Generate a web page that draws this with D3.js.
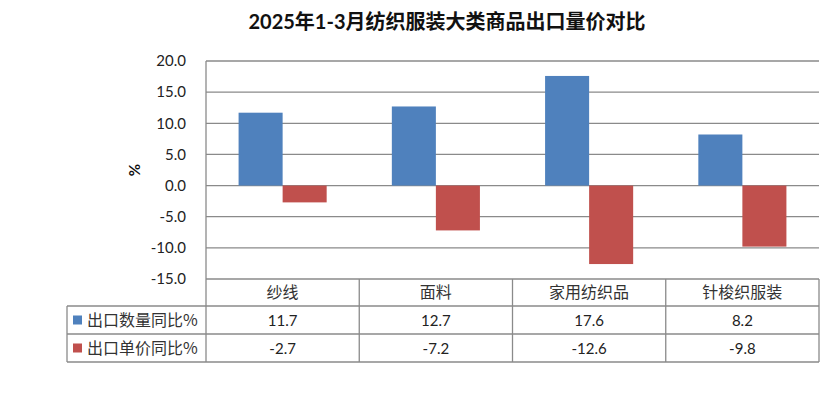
<!DOCTYPE html>
<html><head><meta charset="utf-8">
<script src="https://cdn.jsdelivr.net/npm/d3@7"></script>
<style>body{margin:0;background:#fff}svg{display:block}</style>
</head><body>
<svg id="c" width="830" height="395"></svg>
<script>
const title = "2025年1-3月纺织服装大类商品出口量价对比";
const categories = ["纱线", "面料", "家用纺织品", "针梭织服装"];
const seriesNames = ["出口数量同比%", "出口单价同比%"];
const quantityYoY = [11.7, 12.7, 17.6, 8.2];
const priceYoY = [-2.7, -7.2, -12.6, -9.8];
const yTicks = [20, 15, 10, 5, 0, -5, -10, -15];
const colors = ["#4F81BD", "#C0504D"];
const yLabel = "%";

const series = [quantityYoY, priceYoY];
const svg = d3.select("#c");
const L = 206, R = 819, T = 61, B = 279;
const rowH = [B, 306, 334, 362];
const legendLeft = 67;
const grid = "#8a8a8a";
const cjk = "'Noto Sans CJK SC', sans-serif";
const num = "Lato, 'Open Sans', sans-serif";
const fmt = d => d3.format(".1f")(d).replace("\u2212", "-");

const x0 = d3.scaleBand().domain(categories).range([L, R]).padding(0);
const x1 = d3.scaleBand().domain(d3.range(series.length)).range([0, x0.bandwidth()]).paddingInner(0).paddingOuter(0.74);
const y = d3.scaleLinear().domain([-15, 20]).range([B, T]);

svg.append("text").attr("x", 447).attr("y", 29).attr("text-anchor", "middle")
  .attr("font-family", "Lato, 'Noto Sans CJK SC', sans-serif").attr("font-weight", "bold")
  .attr("font-size", 20).attr("fill", "#111").text(title);

// gridlines
svg.append("g").selectAll("line").data(yTicks).join("line")
  .attr("x1", L).attr("x2", R).attr("y1", d => y(d)).attr("y2", d => y(d))
  .attr("stroke", grid).attr("stroke-width", 1.3);

// y axis labels
const yAxis = d3.axisLeft(y).tickValues(yTicks).tickFormat(fmt).tickSize(0).tickPadding(20);
const ga = svg.append("g").attr("transform", `translate(${L},0)`).call(yAxis);
ga.select(".domain").remove();
ga.selectAll("text").attr("font-family", num).attr("font-size", 15).attr("fill", "#222");

svg.append("text").attr("transform", `translate(140,170) rotate(-90)`).attr("text-anchor", "middle")
  .attr("font-family", num).attr("font-weight", "bold").attr("font-size", 15).attr("fill", "#111").text(yLabel);

// bars
series.forEach((vals, si) => {
  svg.append("g").selectAll("rect").data(vals).join("rect")
    .attr("x", (d, i) => x0(categories[i]) + x1(si))
    .attr("width", x1.bandwidth())
    .attr("y", d => y(Math.max(0, d)))
    .attr("height", d => Math.abs(y(d) - y(0)))
    .attr("fill", colors[si]);
});

// table
const tg = svg.append("g");
tg.append("line").attr("x1", L).attr("x2", L).attr("y1", T).attr("y2", rowH[3]).attr("stroke", grid).attr("stroke-width", 1.3);
x0.domain().forEach(c => {
  const xr = x0(c) + x0.bandwidth();
  tg.append("line").attr("x1", xr).attr("x2", xr).attr("y1", B).attr("y2", rowH[3]).attr("stroke", grid).attr("stroke-width", 1.3);
});
tg.append("line").attr("x1", legendLeft).attr("x2", legendLeft).attr("y1", rowH[1]).attr("y2", rowH[3]).attr("stroke", grid).attr("stroke-width", 1.3);
[rowH[1], rowH[2], rowH[3]].forEach(yy => {
  tg.append("line").attr("x1", legendLeft).attr("x2", R).attr("y1", yy).attr("y2", yy).attr("stroke", grid).attr("stroke-width", 1.3);
});

tg.selectAll("text.cat").data(categories).join("text").attr("class", "cat")
  .attr("x", d => x0(d) + x0.bandwidth() / 2).attr("y", (rowH[0] + rowH[1]) / 2 + 5.5)
  .attr("text-anchor", "middle").attr("font-family", cjk).attr("font-size", 16).attr("fill", "#333").text(d => d);

series.forEach((vals, si) => {
  const cy = (rowH[si + 1] + rowH[si + 2]) / 2;
  tg.append("rect").attr("x", 73).attr("y", cy - 4.5).attr("width", 9).attr("height", 9).attr("fill", colors[si]);
  tg.append("text").attr("x", 87).attr("y", cy + 5.5).attr("font-family", cjk).attr("font-size", 16)
    .attr("fill", "#333").text(seriesNames[si]);
  tg.selectAll(null).data(vals).join("text")
    .attr("x", (d, i) => x0(categories[i]) + x0.bandwidth() / 2).attr("y", cy + 5.5)
    .attr("text-anchor", "middle").attr("font-family", num).attr("font-size", 15).attr("fill", "#222")
    .text(d => fmt(d));
});
</script>
</body></html>
